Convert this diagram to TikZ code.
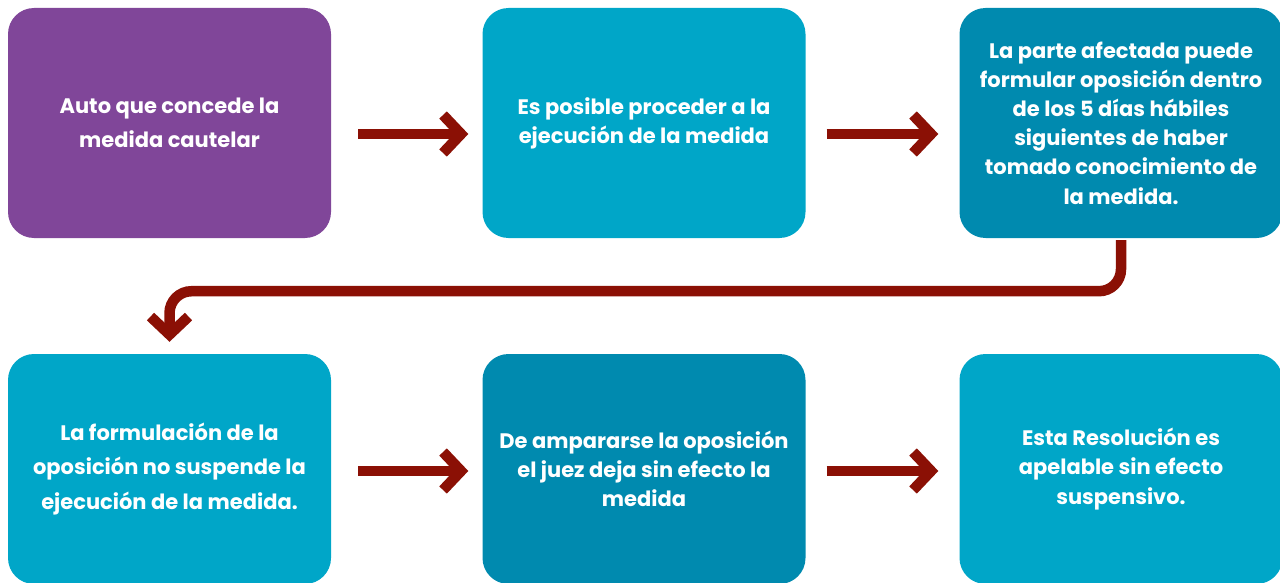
\documentclass[tikz,border=0pt]{standalone}
\usepackage{fontspec}
\setmainfont{Poppins}
\usepackage{xcolor}
\usepackage{tikz}
\usetikzlibrary{arrows.meta,positioning}
\definecolor{autopurple}{RGB}{128,70,153}
\definecolor{stepcyan}{RGB}{0,166,200}
\definecolor{stepteal}{RGB}{0,138,175}
\definecolor{arrowred}{RGB}{139,16,5}

\begin{document}
\begin{tikzpicture}[
  x=1pt, y=-1pt,
  box/.style={rounded corners=26pt, minimum width=323pt, minimum height=230pt, inner sep=0pt, align=center, text=white, font=\fontsize{21}{29.2}\selectfont\bfseries},
  loose/.style={font=\fontsize{21}{34.5}\selectfont\bfseries},
  arrow/.style={-{Straight Barb[length=18pt, width=38pt]}, line width=10.5pt, draw=arrowred},
]
\clip (0,0) rectangle (1280,583);
\node[box, loose, fill=autopurple] (auto) at (169.5,123) {Auto que concede la\\medida cautelar};
\node[box, fill=stepcyan] (ejec) at (644,123) {Es posible proceder a la\\ejecución de la medida};
\node[box, fill=stepteal] (opos) at (1121,123) {La parte afectada puede\\formular oposición dentro\\de los 5 días hábiles\\siguientes de haber\\tomado conocimiento de\\la medida.};
\node[box, loose, fill=stepcyan] (form) at (169.5,469) {La formulación de la\\oposición no suspende la\\ejecución de la medida.};
\node[box, fill=stepteal] (ampa) at (644,469) {De ampararse la oposición\\el juez deja sin efecto la\\medida};
\node[box, fill=stepcyan] (apel) at (1121,469) {Esta Resolución es\\apelable sin efecto\\suspensivo.};
\draw[arrow] ([xshift=27pt, yshift=-11pt]auto.east) -- ([xshift=-14pt, yshift=-11pt]ejec.west);
\draw[arrow] ([xshift=21pt, yshift=-11pt]ejec.east) -- ([xshift=-21pt, yshift=-11pt]opos.west);
\draw[arrow, rounded corners=22pt] ([yshift=-2pt]opos.south) -- ++(0,51) -| ([yshift=12pt]form.north);
\draw[arrow] ([xshift=27pt, yshift=-2pt]form.east) -- ([xshift=-14pt, yshift=-2pt]ampa.west);
\draw[arrow] ([xshift=21pt, yshift=-2pt]ampa.east) -- ([xshift=-21pt, yshift=-2pt]apel.west);
\end{tikzpicture}
\end{document}
